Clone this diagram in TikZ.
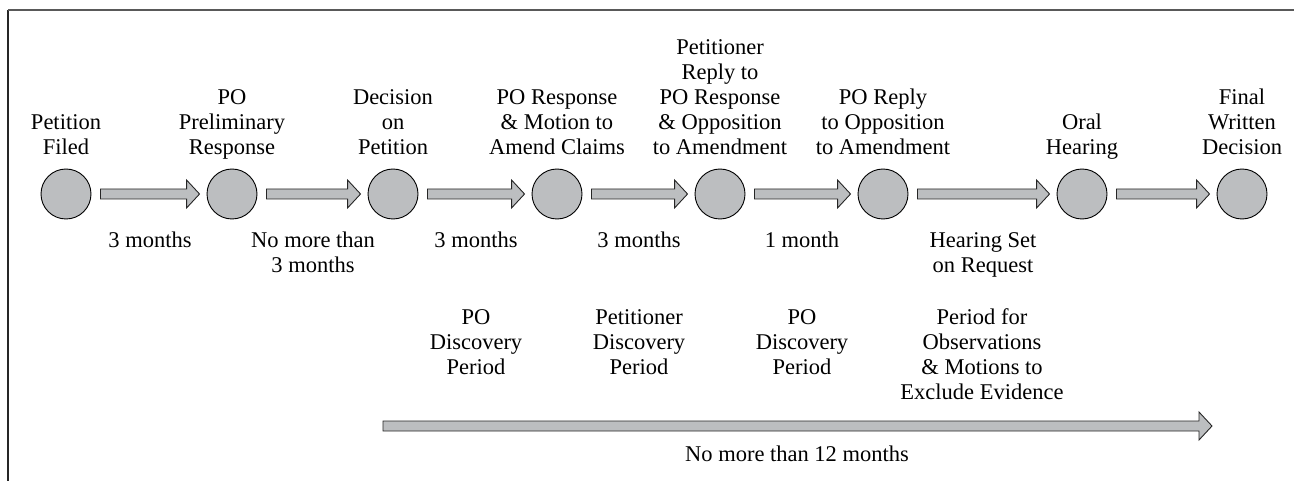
\documentclass[tikz,border=0pt]{standalone}
\usepackage{fontspec}
\setmainfont{Liberation Serif}
\usetikzlibrary{calc}
\definecolor{evfill}{HTML}{BCBEC0}
\tikzset{
  event/.style={circle, draw=black, line width=0.9pt, fill=evfill, minimum size=50pt, inner sep=0pt},
  barr/.style={draw=black!85, line width=0.9pt, fill=evfill, line join=miter},
  lbl/.style={align=center, anchor=south, inner sep=0pt, text depth=0pt},
  frametop/.style={line width=1.6pt, draw=black!65},
  frameleft/.style={line width=1.6pt, draw=black!85},
}
\newcommand{\blockarrow}[2]{%
  \path[barr] let \p1=(#1), \p2=(#2) in
    (\x1,\y1+5pt) -- (\x2-13pt,\y1+5pt) -- (\x2-13pt,\y1+14pt) -- (\x2,\y1)
    -- (\x2-13pt,\y1-14pt) -- (\x2-13pt,\y1-5pt) -- (\x1,\y1-5pt) -- cycle;}
\begin{document}
\begin{tikzpicture}[x=1pt,y=-1pt,font=\fontsize{22.5}{25}\selectfont]
\useasboundingbox (0,0) rectangle (1294,481);
\coordinate (fa) at (8,481);
\coordinate (fb) at (8,10);
\coordinate (fc) at (1294,10);
\draw[frameleft] (fa) -- (fb);
\draw[frametop] (fb) -- (fc);

% events
\node[event] (e1) at (66,194) {};
\node[event] (e2) at (232,194) {};
\node[event] (e3) at (393,194) {};
\node[event] (e4) at (557,194) {};
\node[event] (e5) at (720,194) {};
\node[event] (e6) at (883,194) {};
\node[event] (e7) at (1082,194) {};
\node[event] (e8) at (1242,194) {};

% arrows between events
\blockarrow{[xshift=9pt]e1.east}{[xshift=-7pt]e2.west}
\blockarrow{[xshift=9pt]e2.east}{[xshift=-7pt]e3.west}
\blockarrow{[xshift=9pt]e3.east}{[xshift=-7pt]e4.west}
\blockarrow{[xshift=9pt]e4.east}{[xshift=-7pt]e5.west}
\blockarrow{[xshift=9pt]e5.east}{[xshift=-7pt]e6.west}
\blockarrow{[xshift=9pt]e6.east}{[xshift=-7pt]e7.west}
\blockarrow{[xshift=9pt]e7.east}{[xshift=-7pt]e8.west}

% top labels (anchored at last baseline)
\node[lbl] (t1) at (66,155) {Petition\\Filed};
\node[lbl] (t2) at (232,155) {PO\\Preliminary\\Response};
\node[lbl] (t3) at (393,155) {Decision\\on\\Petition};
\node[lbl] (t4) at (557,155) {PO Response\\\& Motion to\\Amend Claims};
\node[lbl] (t5) at (720,155) {Petitioner\\Reply to\\PO Response\\\& Opposition\\to Amendment};
\node[lbl] (t6) at (883,155) {PO Reply\\to Opposition\\to Amendment};
\node[lbl] (t7) at (1082,155) {Oral\\Hearing};
\node[lbl] (t8) at (1242,155) {Final\\Written\\Decision};

% durations
\node[lbl] (d1) at (150,248) {3 months};
\node[lbl] (d2) at (313,273) {No more than\\3 months};
\node[lbl] (d3) at (476,248) {3 months};
\node[lbl] (d4) at (639,248) {3 months};
\node[lbl] (d5) at (802,248) {1 month};
\node[lbl] (d6) at (983,273) {Hearing Set\\on Request};

% periods
\node[lbl] (p1) at (476,375) {PO\\Discovery\\Period};
\node[lbl] (p2) at (639,375) {Petitioner\\Discovery\\Period};
\node[lbl] (p3) at (802,375) {PO\\Discovery\\Period};
\node[lbl] (p4) at (982,400) {Period for\\Observations\\\& Motions to\\Exclude Evidence};

% overall span
\coordinate (ls) at (383,426);
\coordinate (le) at (1212,426);
\blockarrow{ls}{le}
\node[lbl] (span) at (797,462) {No more than 12 months};
\end{tikzpicture}
\end{document}
